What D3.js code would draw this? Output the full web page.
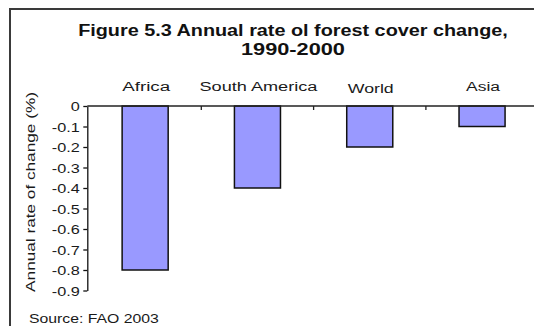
<!DOCTYPE html>
<html><head><meta charset="utf-8">
<script src="https://cdn.jsdelivr.net/npm/d3@7"></script>
<style>html,body{margin:0;padding:0;background:#fff;}svg{display:block;font-family:"Liberation Sans",Arial,sans-serif;}</style>
</head><body>
<script>
const categories = ["Africa", "South America", "World", "Asia"];
const values = [-0.8, -0.4, -0.2, -0.1];
const yTicks = [0, -0.1, -0.2, -0.3, -0.4, -0.5, -0.6, -0.7, -0.8, -0.9];
const titleLines = ["Figure 5.3 Annual rate ol forest cover change,", "1990-2000"];
const yLabel = "Annual rate of change (%)";
const source = "Source: FAO 2003";

const W = 534, H = 326;
const svg = d3.select("body").append("svg").attr("width", W).attr("height", H);

// place text at (cx, cy) stretched horizontally to width w; anchor: start|middle|end; rot in degrees
function placeText(sel, cx, cy, w, anchor, rot) {
  sel.attr("x", 0).attr("y", 0).attr("text-anchor", anchor);
  const nat = sel.node().getComputedTextLength();
  const sx = w ? w / nat : 1;
  sel.attr("transform", `translate(${cx},${cy})` + (rot ? ` rotate(${rot})` : "") + ` scale(${sx},1)`);
}

// frame
svg.append("path").attr("d", `M10,${H+5} L10,9 L${W+5},9`)
  .attr("fill", "none").attr("stroke", "#3a3a3a").attr("stroke-width", 2);

const x = d3.scaleBand().domain(categories).range([89, 538.2]).paddingInner(0.59).paddingOuter(0.295);
const y = d3.scaleLinear().domain([0, -0.9]).range([106, 290.5]);
const axisX = 87.3;

// bars
svg.selectAll("rect.bar").data(values).enter().append("rect")
  .attr("class", "bar")
  .attr("x", (d, i) => x(categories[i]))
  .attr("width", x.bandwidth())
  .attr("y", y(0))
  .attr("height", d => y(d) - y(0))
  .attr("fill", "#9999ff").attr("stroke", "#111").attr("stroke-width", 1.5);

// y axis
const ya = svg.append("g").attr("transform", `translate(${axisX},0)`)
  .call(d3.axisLeft(y).tickValues(yTicks).tickSize(4).tickPadding(3).tickSizeOuter(0)
    .tickFormat(d => d === 0 ? "0" : d3.format(".1f")(d).replace("−", "-")));
ya.select(".domain").attr("stroke", "#111").attr("stroke-width", 1.3);
ya.selectAll(".tick line").attr("stroke", "#111").attr("stroke-width", 1.3);
ya.selectAll(".tick text").attr("font-size", 12.5).attr("fill", "#1a1a1a")
  .attr("font-family", '"Liberation Sans",Arial,sans-serif')
  .each(function(){
    const t = d3.select(this);
    const nat = this.getComputedTextLength();
    t.attr("dy", null).attr("x", 0).attr("y", 0)
     .attr("transform", `translate(-7.5,4.5) scale(1.3,1)`);
  });

// x axis line at zero with boundary ticks below
svg.append("line").attr("x1", axisX).attr("x2", W + 5).attr("y1", y(0)).attr("y2", y(0))
  .attr("stroke", "#222").attr("stroke-width", 1.3);
svg.selectAll("line.xt").data(categories.slice(1)).enter().append("line")
  .attr("class", "xt")
  .attr("x1", c => x(c) - (x.step() - x.bandwidth()) / 2)
  .attr("x2", c => x(c) - (x.step() - x.bandwidth()) / 2)
  .attr("y1", y(0)).attr("y2", y(0) + 4)
  .attr("stroke", "#222").attr("stroke-width", 1.3);

// category labels
const catWidths = [48, 118, 46, 34];
svg.selectAll("text.cat").data(categories).enter().append("text")
  .attr("class", "cat").attr("font-size", 13.5).attr("fill", "#1a1a1a")
  .text(c => c)
  .each(function(c, i){
    placeText(d3.select(this), x(c) + x.bandwidth() / 2 + 1, i === 2 ? 93 : 91, catWidths[i], "middle");
  });

// title
const titleWidths = [430, 104];
svg.selectAll("text.title").data(titleLines).enter().append("text")
  .attr("class", "title").attr("font-size", 16).attr("font-weight", "bold").attr("fill", "#111")
  .text(d => d)
  .each(function(d, i){ placeText(d3.select(this), 293, 36 + i * 19, titleWidths[i], "middle"); });

// y label
placeText(svg.append("text").attr("font-size", 13.5).attr("fill", "#1a1a1a").text(yLabel),
  35, 192, 200, "middle", -90);

// source
placeText(svg.append("text").attr("font-size", 13).attr("fill", "#1a1a1a").text(source),
  29, 322.5, 130, "start");
</script>
</body></html>
